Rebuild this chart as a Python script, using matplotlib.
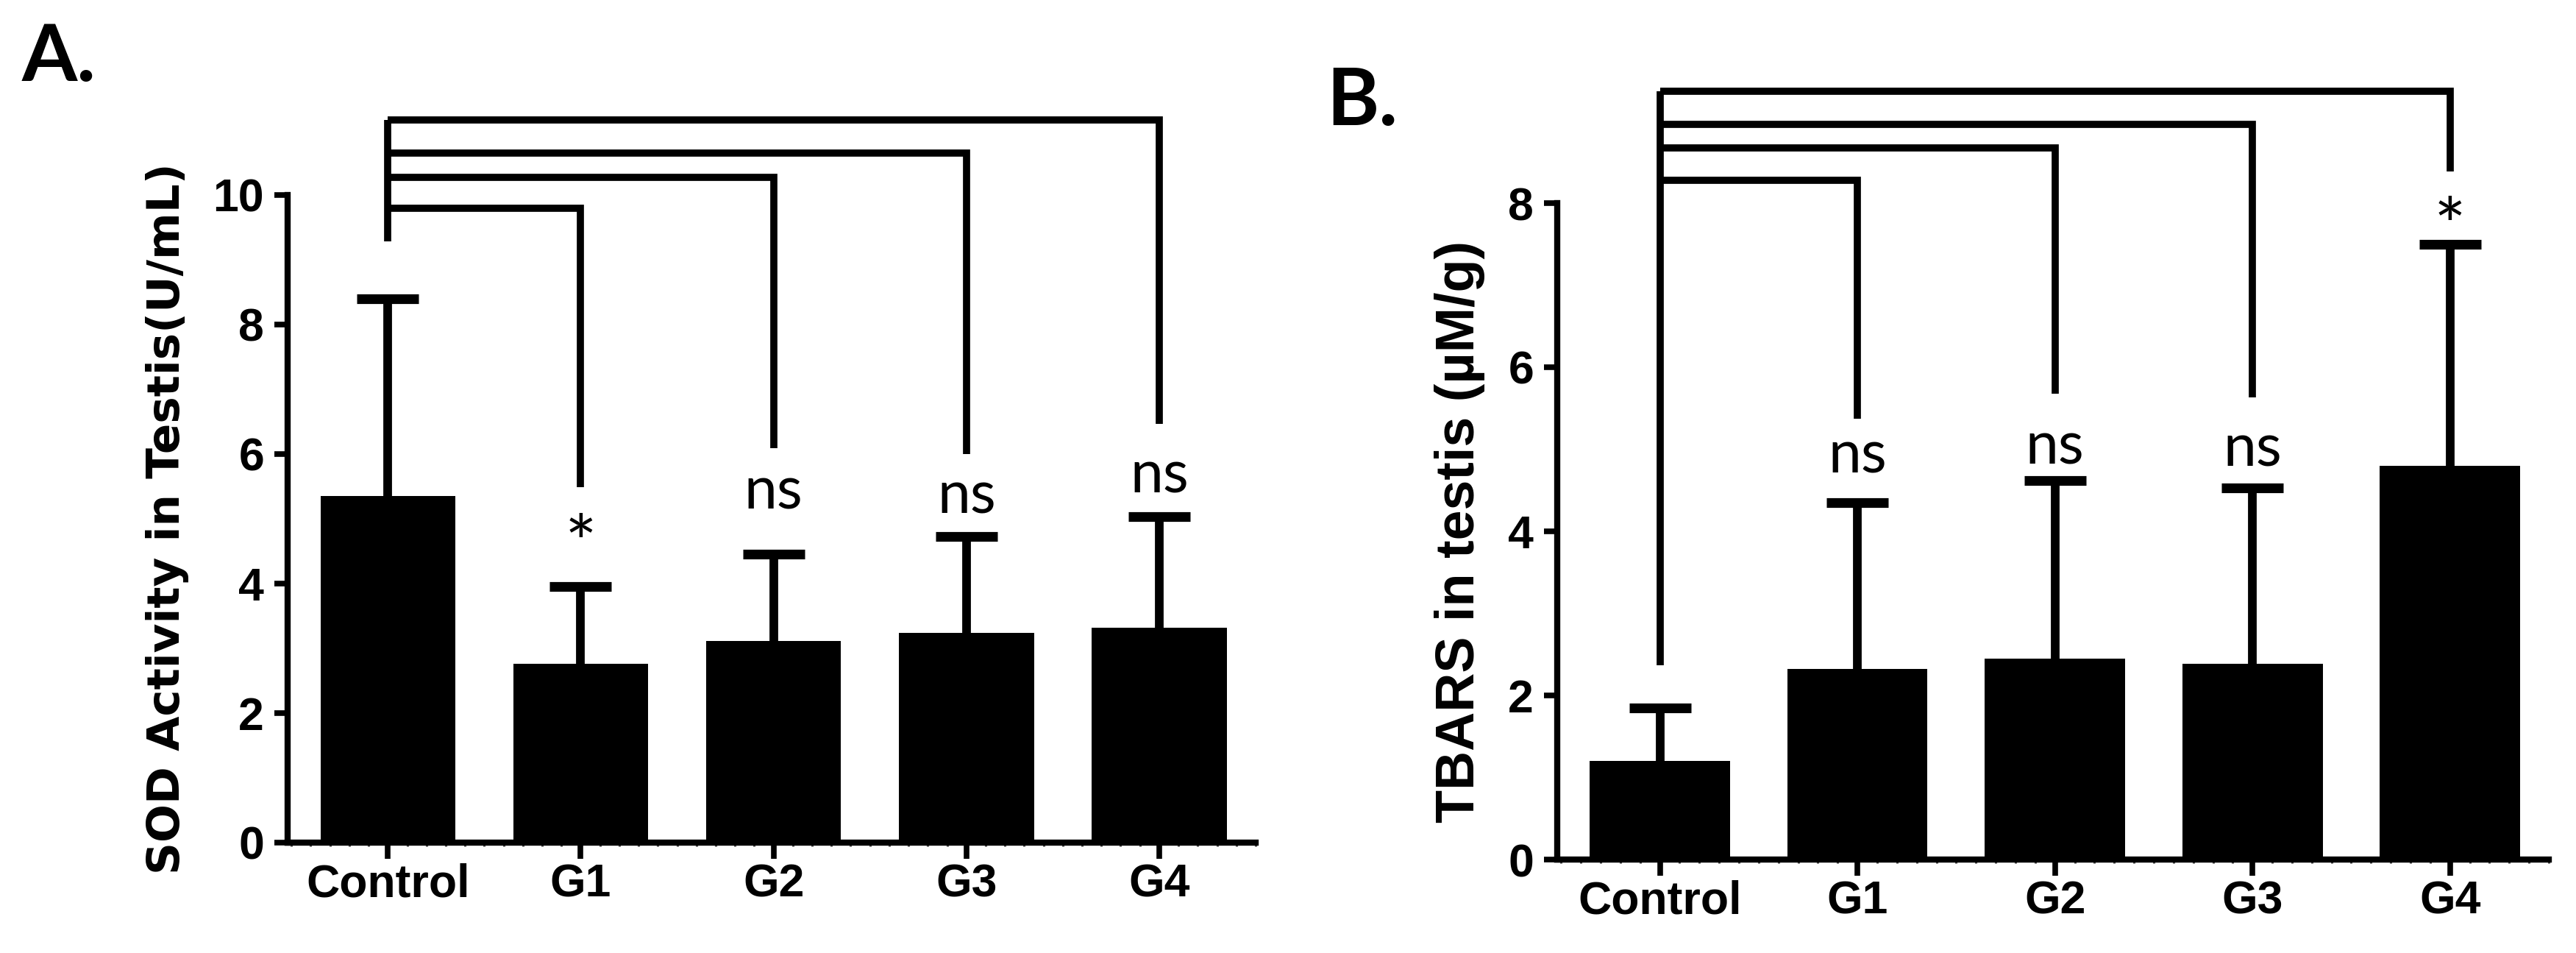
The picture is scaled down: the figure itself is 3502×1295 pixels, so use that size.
import numpy as np
import matplotlib
matplotlib.use("Agg")
import matplotlib.pyplot as plt
from matplotlib.ticker import MultipleLocator

groups = ['Control', 'G1', 'G2', 'G3', 'G4']

# panel A - SOD activity
sod_mean = [5.35, 2.76, 3.11, 3.24, 3.32]
sod_sd = [3.05, 1.19, 1.34, 1.49, 1.71]
sod_bracket = [9.80, 10.27, 10.65, 11.16]   # G1..G4 bracket heights
sod_drop = [5.49, 6.09, 6.00, 6.47]         # where each drop line ends
sod_ctrl_drop = 9.28
sod_marks = ['*', 'ns', 'ns', 'ns']
sod_mark_y = [4.22, 5.15, 5.09, 5.40]       # text baselines

# panel B - TBARS
tbars_mean = [1.20, 2.32, 2.45, 2.39, 4.80]
tbars_sd = [0.65, 2.03, 2.17, 2.14, 2.70]
tbars_bracket = [8.28, 8.67, 8.96, 9.36]
tbars_drop = [5.37, 5.68, 5.63, 8.39]
tbars_ctrl_drop = 2.37
tbars_marks = ['ns', 'ns', 'ns', '*']
tbars_mark_y = [4.71, 4.82, 4.79, 7.40]

W, H = 3502, 1295
fig = plt.figure(figsize=(W / 100, H / 100), dpi=100)

tick_font = {'family': 'Liberation Sans', 'weight': 'bold', 'size': 45}


def panel(ax, mean, sd, bracket, drop, ctrl_drop, marks, mark_y, ymax, bar_w):
    x = np.arange(len(groups))
    ax.bar(x, mean, width=bar_w, color='black', zorder=3)
    eb = ax.errorbar(x, mean, yerr=[np.zeros(len(sd)), sd], fmt='none',
                     ecolor='black', elinewidth=8.5, capsize=30,
                     capthick=9.5, zorder=2)
    eb[1][0].set_visible(False)  # hide the lower caps

    lw = 7
    ax.plot([0, 0], [ctrl_drop, bracket[-1]], color='black', lw=lw,
            clip_on=False, solid_capstyle='butt')
    for i in range(1, len(groups)):
        ax.plot([0, i, i], [bracket[i - 1], bracket[i - 1], drop[i - 1]],
                color='black', lw=lw, clip_on=False,
                solid_joinstyle='miter', solid_capstyle='butt')
        m = marks[i - 1]
        size = 74 if m == '*' else 58
        ax.text(i, mark_y[i - 1], m, ha='center', va='baseline',
                fontsize=size, family='Lato', clip_on=False)

    ax.set_ylim(0, ymax)
    ax.set_xlim(-0.52, 4.5)
    for s in ['top', 'right']:
        ax.spines[s].set_visible(False)
    for s in ['left', 'bottom']:
        ax.spines[s].set_linewidth(6)
    ax.set_xticks(x)
    ax.set_xticklabels(groups, fontdict=tick_font)
    ax.xaxis.set_minor_locator(MultipleLocator(0.1))
    ax.yaxis.set_major_locator(MultipleLocator(2))
    ax.set_yticklabels([f'{int(v)}' for v in ax.get_yticks()], fontdict=tick_font)
    ax.tick_params(axis='x', which='major', length=16, width=5.5, pad=4)
    ax.tick_params(axis='x', which='minor', length=3.5, width=2.2, color='#444444')
    ax.tick_params(axis='y', which='major', length=13, width=5.5, pad=10)


axA = fig.add_axes([391 / W, 1 - 1145 / H, (1707 - 391) / W, (1145 - 265) / H])
panel(axA, sod_mean, sod_sd, sod_bracket, sod_drop, sod_ctrl_drop,
      sod_marks, sod_mark_y, 10, 0.70)
axA.set_ylabel('SOD Activity in Testis(U/mL)', fontsize=44,
               family='DejaVu Sans', weight='bold')
axA.yaxis.set_label_coords(-0.102, 0.5)

axB = fig.add_axes([2117 / W, 1 - 1168 / H, (3465 - 2117) / W, (1168 - 276) / H])
panel(axB, tbars_mean, tbars_sd, tbars_bracket, tbars_drop, tbars_ctrl_drop,
      tbars_marks, tbars_mark_y, 8, 0.71)
axB.set_ylabel('TBARS in testis (µM/g)', fontsize=53,
               family='Liberation Sans', weight='bold')
axB.yaxis.set_label_coords(-0.073, 0.5)

fig.text(30 / W, 1 - 110 / H, 'A.', fontsize=78, family='Lato',
         weight='bold', va='baseline')
fig.text(1803 / W, 1 - 170 / H, 'B.', fontsize=78, family='Lato',
         weight='bold', va='baseline')

fig.savefig('out.png', dpi=100, facecolor='white')
